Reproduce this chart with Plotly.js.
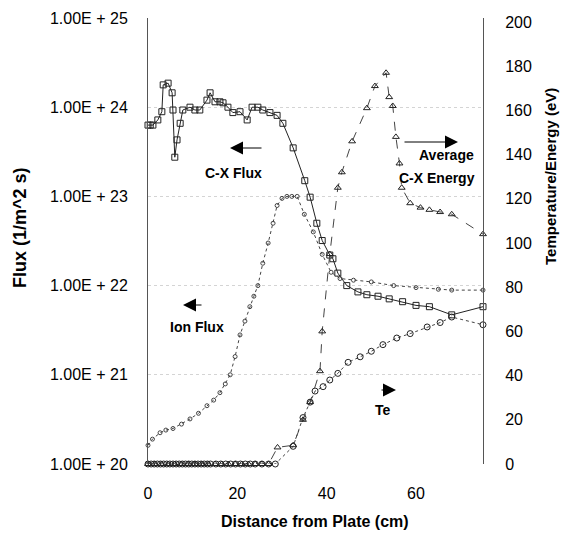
<!DOCTYPE html>
<html>
<head>
<meta charset="utf-8">
<script src="https://cdn.plot.ly/plotly-3.0.1.min.js"></script>
<style>html,body{margin:0;padding:0;background:#fff;}#chart{width:572px;height:539px;}</style>
</head>
<body>
<div id="chart"></div>
<script>
// ---- data ----
var cxFluxX = [0, 0.5, 1.1, 2.2, 3.1, 3.4, 4.5, 5.4, 5.6, 6.0, 6.5, 7.2, 7.8, 9.4, 10.5, 11.6, 13.2, 13.9, 15.0, 16.1, 16.8, 17.9, 19.0, 20.6, 22.2, 23.3, 24.6, 25.7, 27.3, 28.9, 30.2, 32.5, 35.1, 36.3, 37.8, 39.0, 40.7, 41.4, 42.5, 44.5, 47.0, 49.0, 51.5, 54.0, 57.0, 60.0, 63.0, 68.0, 75.0];
var cxFlux = [6.3e23, 6.3e23, 6.3e23, 7.2e23, 8.9e23, 1.78e24, 1.86e24, 1.45e24, 9.3e23, 2.75e23, 4.3e23, 6.6e23, 9.3e23, 1.0e24, 9.3e23, 9.3e23, 1.2e24, 1.45e24, 1.15e24, 1.15e24, 1.12e24, 1.0e24, 8.7e23, 8.9e23, 7.2e23, 1.0e24, 1.0e24, 9.3e23, 8.7e23, 8.1e23, 6.6e23, 3.5e23, 1.5e23, 9.8e22, 5.0e22, 3.2e22, 2.2e22, 2.0e22, 1.38e22, 1.0e22, 8.5e21, 7.9e21, 7.6e21, 7.1e21, 6.6e21, 6.0e21, 5.8e21, 4.7e21, 5.8e21];

var ionFluxX = [0, 1.0, 2.7, 4.0, 5.6, 7.5, 9.4, 11.3, 13.2, 14.7, 16.1, 17.3, 18.4, 19.5, 20.6, 21.7, 22.8, 23.7, 24.6, 25.7, 26.9, 28.0, 28.9, 30.0, 31.1, 32.2, 33.4, 35.0, 37.0, 39.0, 41.0, 43.0, 46.0, 50.0, 55.0, 60.0, 65.0, 68.0, 75.0];
var ionFlux = [1.62e20, 1.9e20, 2.24e20, 2.4e20, 2.5e20, 2.8e20, 3.2e20, 3.7e20, 4.5e20, 5.2e20, 6.3e20, 7.9e20, 1.0e21, 1.6e21, 2.8e21, 4.0e21, 5.8e21, 7.6e21, 1.0e22, 1.78e22, 3.0e22, 5.0e22, 7.9e22, 9.5e22, 1.0e23, 1.0e23, 1.0e23, 6.3e22, 4.0e22, 2.24e22, 1.41e22, 1.2e22, 1.15e22, 1.1e22, 1.0e22, 9.5e21, 9.1e21, 8.9e21, 8.9e21];

var teX = [0, 0.7, 1.4, 2.1, 2.8, 3.5, 4.2, 4.9, 5.6, 6.3, 7.0, 7.7, 8.4, 9.1, 9.8, 10.5, 11.2, 11.9, 12.6, 13.3, 14.0, 15.2, 16.3, 17.4, 18.5, 19.6, 20.7, 21.8, 22.9, 24.0, 25.5, 27.0, 28.5, 32.5, 34.7, 36.3, 37.4, 39.2, 40.7, 42.5, 44.8, 47.5, 50.0, 52.6, 55.7, 58.7, 62.5, 65.4, 68.0, 75.0];
var te = [0, 0, 0, 0, 0, 0, 0, 0, 0, 0, 0, 0, 0, 0, 0, 0, 0, 0, 0, 0, 0, 0, 0, 0, 0, 0, 0, 0, 0, 0, 0, 0, 0, 8, 21, 28, 33, 35, 38, 41, 46, 48.5, 51, 54, 57, 59, 62, 64, 66.5, 63];

var energyX = [0, 1.5, 3.0, 4.5, 6.0, 7.5, 9.0, 10.5, 12.0, 13.5, 15.0, 16.5, 18.0, 19.5, 21.0, 22.5, 24.0, 25.5, 27.0, 29.0, 32.5, 34.7, 36.3, 38.5, 39.0, 40.7, 42.5, 43.4, 45.7, 49.0, 50.8, 53.3, 54.0, 54.8, 55.5, 56.3, 56.8, 58.7, 61.0, 63.0, 65.4, 68.0, 75.0];
var energy = [0, 0, 0, 0, 0, 0, 0, 0, 0, 0, 0, 0, 0, 0, 0, 0, 0, 0, 0, 7.5, 8.5, 20, 28, 42, 60, 95, 125, 132, 146, 161, 171, 177, 166, 162, 148, 136, 125, 118, 116, 115, 114, 113, 104];

var xTicks = [0, 20, 40, 60];
var fluxTicks = [1e20, 1e21, 1e22, 1e23, 1e24, 1e25];
var fluxTickText = ['1.00E + 20', '1.00E + 21', '1.00E + 22', '1.00E + 23', '1.00E + 24', '1.00E + 25'];
var eTicks = [0, 20, 40, 60, 80, 100, 120, 140, 160, 180, 200];

// ---- layout helpers (pixel -> paper) ----
var L = 148, R = 483, T = 18, B = 464;
function px(x) { return (x - L) / (R - L); }
function py(y) { return (B - y) / (B - T); }

var ink = '#222';
var FONT = 'Liberation Sans, Arial, Helvetica, sans-serif';

var traces = [
  {x: cxFluxX, y: cxFlux, type: 'scatter', mode: 'lines+markers', yaxis: 'y', cliponaxis: false,
   line: {color: ink, width: 1}, marker: {symbol: 'square-open', size: 6, color: ink, line: {width: 1}}, name: 'C-X Flux'},
  {x: ionFluxX, y: ionFlux, type: 'scatter', mode: 'lines+markers', yaxis: 'y', cliponaxis: false,
   line: {color: '#444', width: 1, dash: 'dot'}, marker: {symbol: 'circle-open', size: 4, color: '#444', line: {width: 1}}, name: 'Ion Flux'},
  {x: teX, y: te, type: 'scatter', mode: 'lines+markers', yaxis: 'y2', cliponaxis: false,
   line: {color: '#444', width: 1, dash: 'dot'}, marker: {symbol: 'circle-open', size: 6, color: ink, line: {width: 1}}, name: 'Te'},
  {x: energyX, y: energy, type: 'scatter', mode: 'lines+markers', yaxis: 'y2', cliponaxis: false,
   line: {color: '#444', width: 1, dash: 'dash'}, marker: {symbol: 'triangle-up-open', size: 6, color: ink, line: {width: 1}}, name: 'Average C-X Energy'}
];

function label(text, x, y, size, anchor) {
  return {xref: 'paper', yref: 'paper', x: px(x), y: py(y), text: '<b>' + text + '</b>',
          showarrow: false, xanchor: anchor || 'center', yanchor: 'middle',
          font: {family: FONT, size: size, color: '#000'}};
}
function arrow(tipX, tipY, ax) {
  return {xref: 'paper', yref: 'paper', x: px(tipX), y: py(tipY), text: '', showarrow: true,
          ax: ax, ay: 0, arrowhead: 2, arrowsize: 2.6, arrowwidth: 1, arrowcolor: '#000', standoff: 0};
}

var annotations = [
  arrow(230, 148, 33), label('C-X Flux', 233, 173, 14),
  arrow(183, 305, 20), label('Ion Flux', 197, 327, 14),
  arrow(458, 142, -55), label('Average', 476, 155, 14, 'right'), label('C-X Energy', 477, 178, 14, 'right'),
  arrow(396, 390, -16), label('Te', 383, 410, 14),
  {xref: 'paper', yref: 'paper', x: px(20), y: py(228), text: '<b>Flux (1/m^2 s)</b>', textangle: -90, showarrow: false,
   xanchor: 'center', yanchor: 'middle', font: {family: FONT, size: 18, color: '#000'}},
  {xref: 'paper', yref: 'paper', x: px(550), y: py(177), text: '<b>Temperature/Energy (eV)</b>', textangle: -90, showarrow: false,
   xanchor: 'center', yanchor: 'middle', font: {family: FONT, size: 15, color: '#000'}},
  {xref: 'paper', yref: 'paper', x: px(315), y: py(521), text: '<b>Distance from Plate (cm)</b>', showarrow: false,
   xanchor: 'center', yanchor: 'middle', font: {family: FONT, size: 16, color: '#000'}}
];

var layout = {
  width: 572, height: 539,
  margin: {l: L, r: 572 - R, t: T, b: 539 - B, pad: 0},
  paper_bgcolor: '#fff', plot_bgcolor: '#fff',
  showlegend: false,
  font: {family: FONT, size: 16, color: '#000'},
  xaxis: {range: [0, 75], tickvals: xTicks, ticktext: xTicks.map(String), showgrid: false, zeroline: false,
          showline: false, ticks: '', ticklabelstandoff: 18, tickfont: {size: 16}},
  yaxis: {type: 'log', range: [20, 25], tickvals: fluxTicks, ticktext: fluxTickText, showline: true,
          linecolor: '#555', linewidth: 1, showgrid: true, gridcolor: '#d4d4d4', griddash: 'dot', gridwidth: 1,
          zeroline: false, ticks: '', ticklabelstandoff: 16, tickfont: {size: 16}},
  yaxis2: {overlaying: 'y', side: 'right', range: [0, 201.8], tickvals: eTicks, ticktext: eTicks.map(String),
           showline: true, linecolor: '#555', linewidth: 1, showgrid: false, zeroline: false, ticks: '',
           ticklabelstandoff: 18, tickfont: {size: 16}},
  annotations: annotations
};

Plotly.newPlot('chart', traces, layout, {staticPlot: true, displayModeBar: false});
</script>
</body>
</html>
